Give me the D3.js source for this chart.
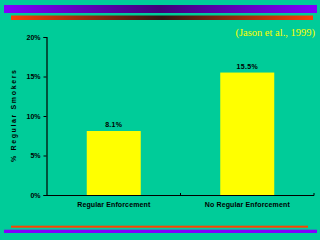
<!DOCTYPE html>
<html>
<head>
<meta charset="utf-8">
<script src="https://d3js.org/d3.v7.min.js"></script>
<style>
  html, body { margin: 0; padding: 0; background: #00cc99; }
  svg { display: block; }
  text { font-family: "Liberation Sans", Arial, sans-serif; }
</style>
</head>
<body>
<svg id="chart"></svg>
<script>
// data
var categories = ["Regular Enforcement", "No Regular Enforcement"];
var values = [8.1, 15.5];
var valueLabels = ["8.1%", "15.5%"];
var yTicks = [0, 5, 10, 15, 20];
var citation = "(Jason et al., 1999)";
var yTitle = "% Regular Smokers";

var W = 320, H = 240;
var svg = d3.select("#chart").attr("width", W).attr("height", H);

svg.append("rect").attr("width", W).attr("height", H).attr("fill", "#00cc99");

// decorative bands
var defs = svg.append("defs");
function grad(id, edge, mid) {
  var g = defs.append("linearGradient").attr("id", id);
  g.append("stop").attr("offset", "0%").attr("stop-color", edge);
  g.append("stop").attr("offset", "50%").attr("stop-color", mid);
  g.append("stop").attr("offset", "100%").attr("stop-color", edge);
}
grad("gPurple", "#8000ff", "#40007a");
grad("gOrange", "#ff4000", "#301410");

svg.append("rect").attr("x", 4).attr("y", 5).attr("width", 313).attr("height", 8).attr("fill", "url(#gPurple)");
svg.append("rect").attr("x", 11).attr("y", 15.5).attr("width", 302).attr("height", 4.5).attr("fill", "url(#gOrange)");
svg.append("rect").attr("x", 11).attr("y", 225.7).attr("width", 297).attr("height", 2).attr("fill", "#ff4000");
svg.append("rect").attr("x", 4).attr("y", 229.7).attr("width", 313).attr("height", 3.3).attr("fill", "#8000ff");

// citation
svg.append("text")
  .attr("x", 315).attr("y", 36)
  .attr("text-anchor", "end")
  .attr("fill", "#ffff00")
  .style("font-family", "'Liberation Serif', 'Times New Roman', serif")
  .style("font-size", "10.5px")
  .text(citation);

// scales
var x = d3.scaleBand().domain(categories).range([47, 314]).paddingInner(0).paddingOuter(0);
var y = d3.scaleLinear().domain([0, 20]).range([195, 37]);
var barW = 54;

var g = svg.append("g");

// bars
g.selectAll(".bar").data(values).enter().append("rect")
  .attr("class", "bar")
  .attr("x", function(d, i) { return x(categories[i]) + x.bandwidth() / 2 - barW / 2; })
  .attr("y", function(d) { return y(d); })
  .attr("width", barW)
  .attr("height", function(d) { return y(0) - y(d); })
  .attr("fill", "#ffff00");

// value labels
g.selectAll(".vl").data(values).enter().append("text")
  .attr("class", "vl")
  .attr("x", function(d, i) { return x(categories[i]) + x.bandwidth() / 2; })
  .attr("y", function(d) { return y(d) - 4; })
  .attr("text-anchor", "middle")
  .style("font-size", "7px").style("font-weight", "bold")
  .style("letter-spacing", "0.3px")
  .attr("fill", "#000")
  .text(function(d, i) { return valueLabels[i]; });

// y axis
var yAxis = d3.axisLeft(y).tickValues(yTicks).tickSize(3).tickPadding(3)
  .tickFormat(function(d) { return d + "%"; });
var ya = g.append("g").attr("transform", "translate(46.5,0)").call(yAxis);
ya.select(".domain").attr("stroke", "#000").attr("stroke-width", 1.2);
ya.selectAll(".tick line").attr("stroke", "#000");
ya.selectAll(".tick text")
  .style("font-size", "7px").style("font-weight", "bold")
  .style("font-family", "'Liberation Sans', Arial, sans-serif")
  .attr("fill", "#000");

// x axis
var xAxis = d3.axisBottom(x).tickSize(0).tickPadding(7);
var xa = g.append("g").attr("transform", "translate(0,195.5)").call(xAxis);
xa.select(".domain").attr("stroke", "#000").attr("stroke-width", 1.2).attr("d", "M47,0H314");
xa.selectAll(".tick text")
  .style("font-size", "7px").style("font-weight", "bold")
  .style("font-family", "'Liberation Sans', Arial, sans-serif")
  .attr("fill", "#000")
  .attr("textLength", function(d, i) { return i === 0 ? 73 : 85; })
  .attr("lengthAdjust", "spacing");
// separator ticks (pointing up)
g.selectAll(".sep").data([x(categories[1]), 314]).enter().append("line")
  .attr("class", "sep")
  .attr("x1", function(d) { return d; }).attr("x2", function(d) { return d; })
  .attr("y1", 195.5).attr("y2", 193)
  .attr("stroke", "#000");

// y title
svg.append("text")
  .attr("transform", "translate(16,116) rotate(-90)")
  .attr("text-anchor", "middle")
  .style("font-size", "7px").style("font-weight", "bold")
  .attr("textLength", 92)
  .attr("lengthAdjust", "spacing")
  .attr("fill", "#000")
  .text(yTitle);
</script>
</body>
</html>
